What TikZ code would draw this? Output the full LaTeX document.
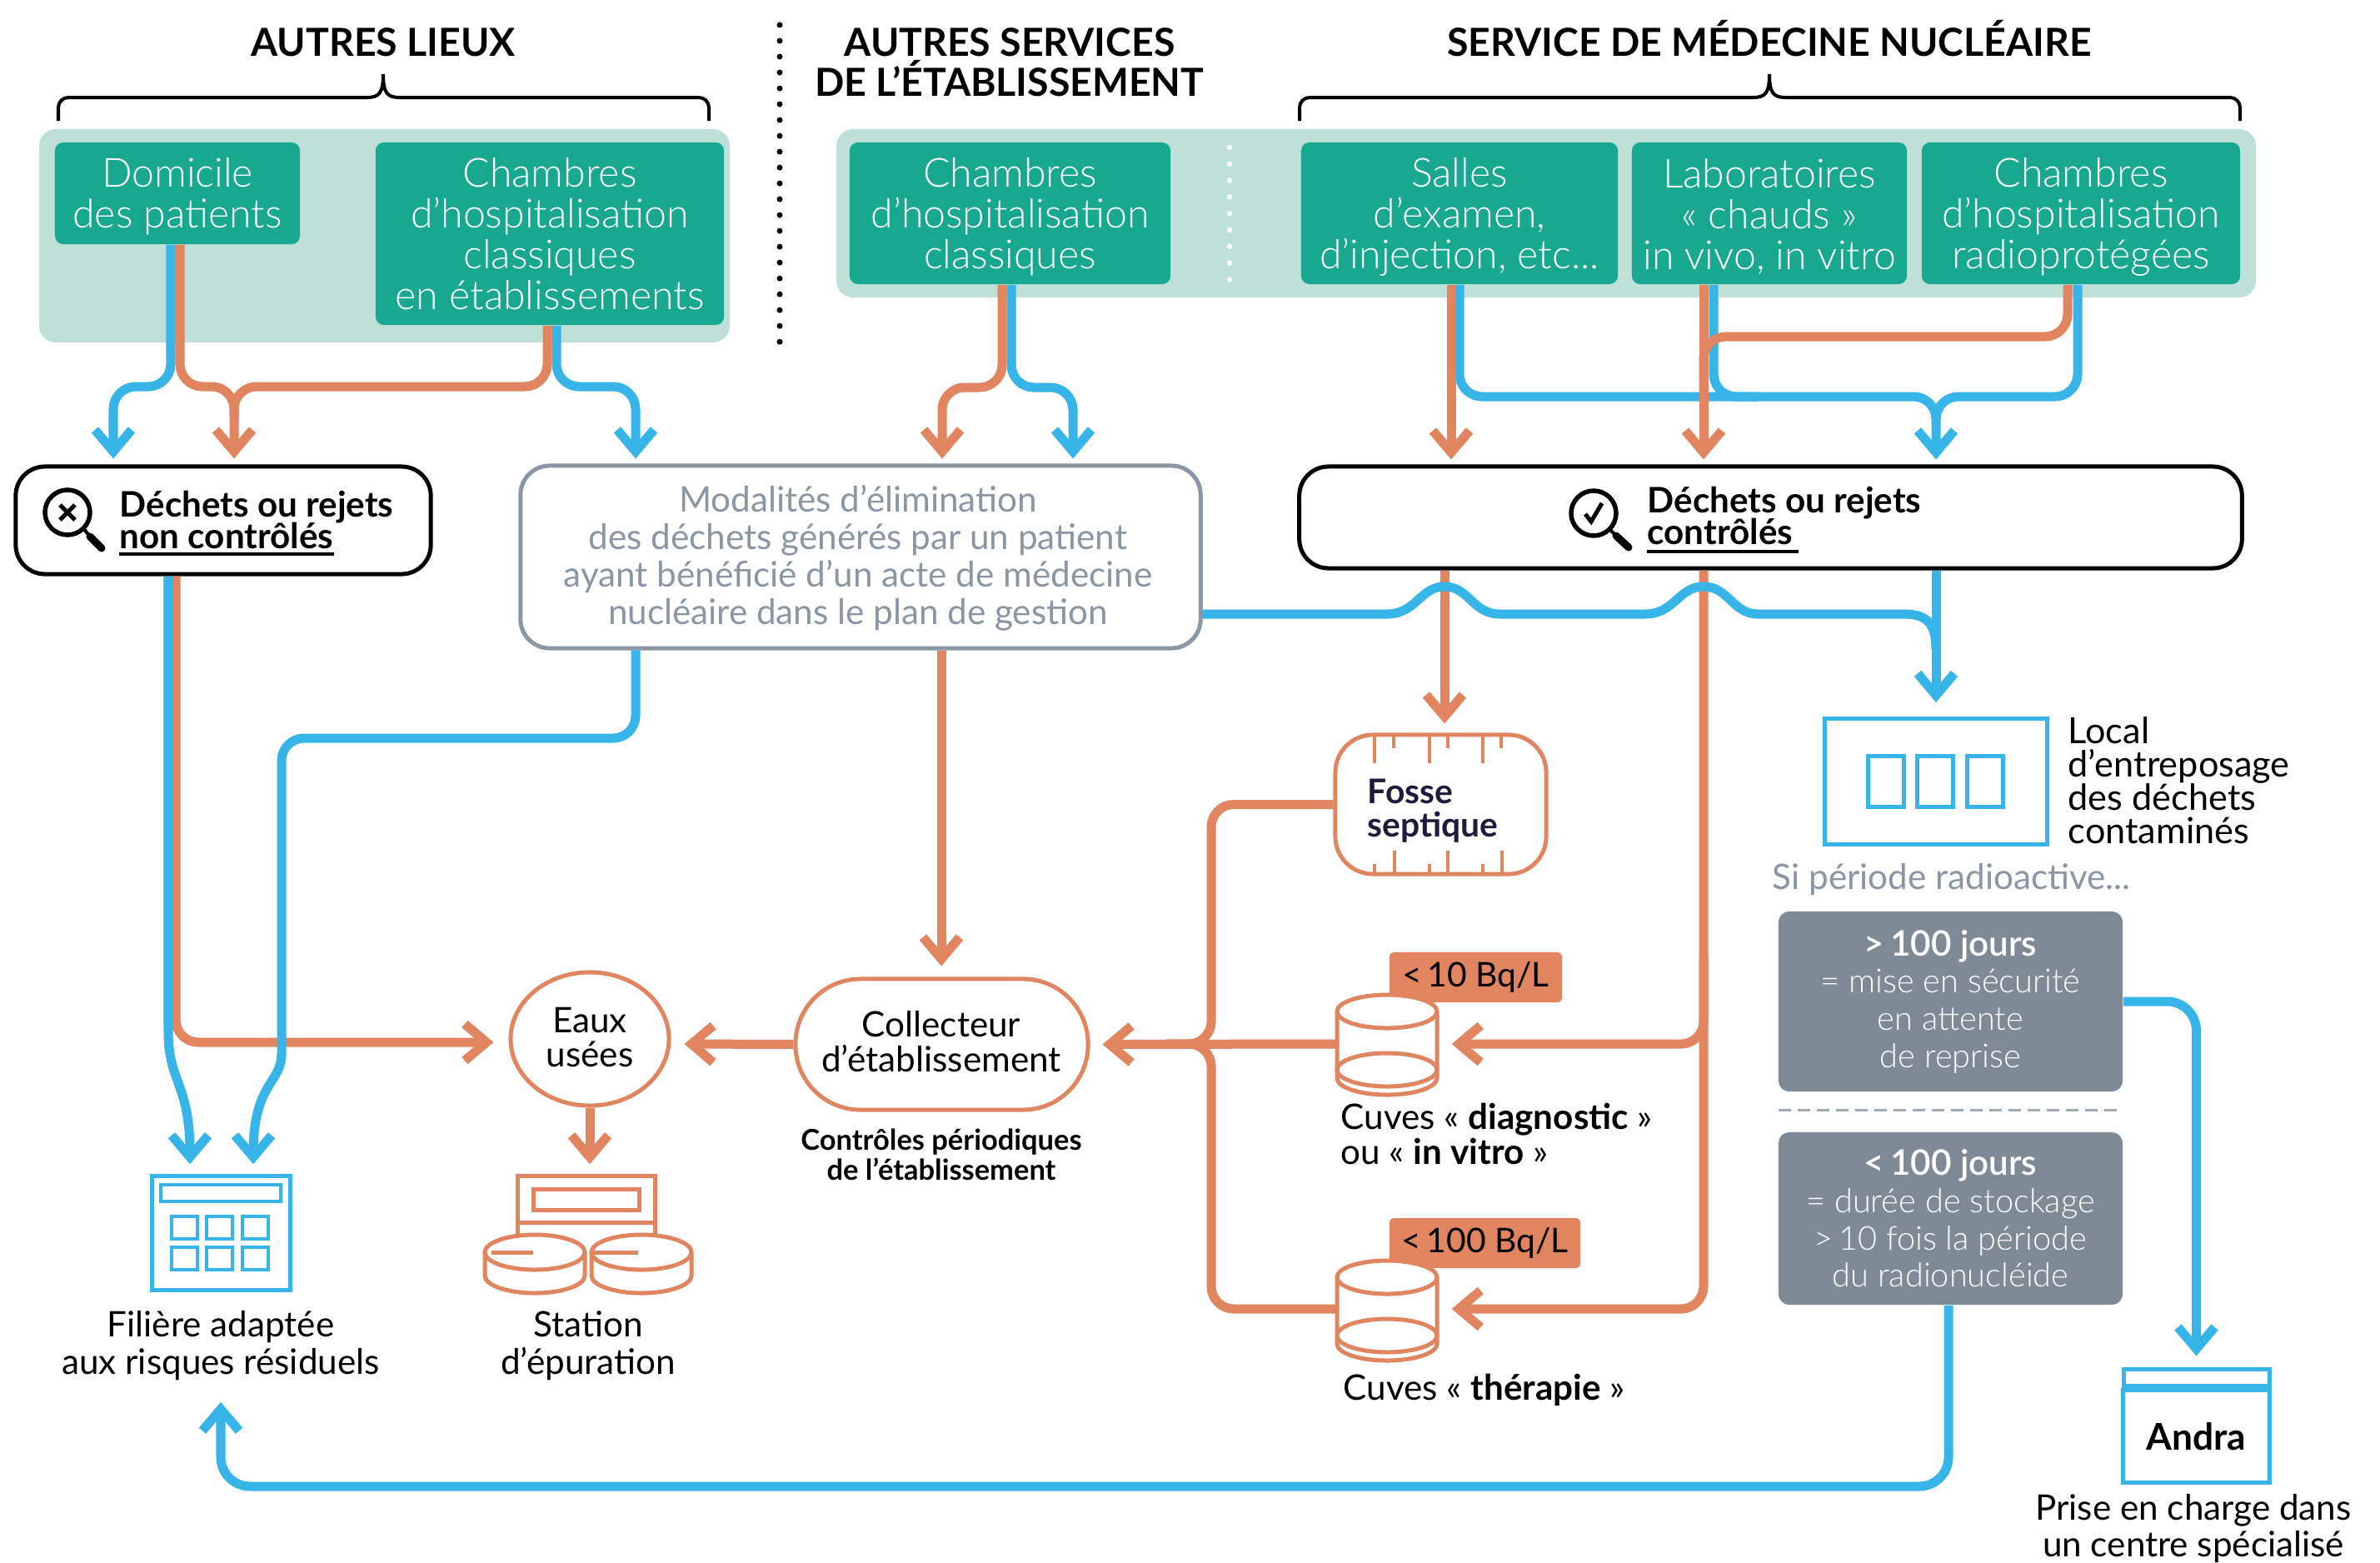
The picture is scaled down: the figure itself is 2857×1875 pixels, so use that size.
\documentclass[tikz,border=0pt]{standalone}
\usepackage{fontspec}
\setmainfont{Lato}
\newfontfamily\lightf{Lato Light}
\usetikzlibrary{arrows.meta,calc,shapes.geometric}
\definecolor{teal1}{HTML}{18A78F}
\definecolor{panelc}{HTML}{BFE0D9}
\definecolor{oran}{HTML}{E0855F}
\definecolor{blu}{HTML}{38B5E8}
\definecolor{grayb}{HTML}{8A96A3}
\definecolor{grayf}{HTML}{7E8B97}
\definecolor{navy}{HTML}{1F1B3D}
\newcommand{\fs}[2]{\fontsize{#1}{#2}\selectfont}
\newcommand{\tl}{\rule{0pt}{12.3pt}}
\AtBeginDocument{\lineskiplimit=-10pt\relax}
\tikzset{
 x=0.01cm,y=-0.01cm,
 panel/.style={fill=panelc,rounded corners=0.2cm},
 tealbox/.style={fill=teal1,rounded corners=0.1cm,inner sep=0,align=center,text=white,font=\lightf\fs{13.7}{13.9}},
 head/.style={font=\bfseries\fs{13.2}{13.6},align=center,inner sep=0},
 brc/.style={draw=black,line width=0.04cm},
 bigbox/.style={draw=black,line width=0.05cm,fill=white,rounded corners=0.35cm,inner sep=0},
 blk/.style={font=\bfseries\fs{12}{10.8},align=left,inner sep=0,anchor=west},
 lbl/.style={font=\fs{12}{12.6},align=center,inner sep=0},
 ln/.style={line width=0.11cm,rounded corners=0.27cm},
 bl/.style={ln,draw=blu},
 or/.style={ln,draw=oran},
 tip/.style={-{Straight Barb[length=0.26cm,width=0.44cm]}},
 ic/.style={line width=0.05cm,draw=oran,fill=white},
 icb/.style={line width=0.05cm,draw=blu},
 graybox/.style={fill=grayf,rounded corners=0.13cm,inner sep=0,text=white,align=center,font=\lightf\fs{11.3}{12.7}},
 tag/.style={fill=oran,rounded corners=0.05cm,inner sep=0,font=\fs{11.6}{12},text=black},
 tube/.pic={
  \draw[ic] (-60,-40) -- (-60,40) arc[start angle=180,end angle=0,x radius=60,y radius=20] -- (60,-40);
  \draw[ic] (0,-40) ellipse[x radius=60,y radius=20];
  \draw[ic] (0,30) ellipse[x radius=60,y radius=20];
 },
 disc/.pic={
  \draw[ic] (-60,0) -- (-60,28) arc[start angle=180,end angle=0,x radius=60,y radius=21] -- (60,0);
  \draw[ic] (0,0) ellipse[x radius=60,y radius=21];
 },
}
\begin{document}
\begin{tikzpicture}
\useasboundingbox (0,0) rectangle (2857,1875);
\fill[white] (0,0) rectangle (2857,1875);
% panels
\fill[panel] (47,155) rectangle (876,411);
\fill[panel] (1004,155) rectangle (2708,357);
% headers
\node[head,anchor=base] (h1) at (460,67) {AUTRES LIEUX};
\node[head] (h2) at (1212,75) {AUTRES SERVICES\\DE L’ÉTABLISSEMENT};
\node[head,anchor=base] (h3) at (2124,67) {SERVICE DE MÉDECINE NUCLÉAIRE};
% braces
\draw[brc,rounded corners=0.12cm] (70,145) -- (70,117) -- (440,117);
\draw[brc] (440,117) .. controls (455,117) and (460,112) .. (460,89);
\draw[brc] (460,89) .. controls (460,112) and (465,117) .. (480,117);
\draw[brc,rounded corners=0.12cm] (480,117) -- (851,117) -- (851,145);
\draw[brc,rounded corners=0.12cm] (1560,145) -- (1560,117) -- (2104,117);
\draw[brc] (2104,117) .. controls (2119,117) and (2124,112) .. (2124,89);
\draw[brc] (2124,89) .. controls (2124,112) and (2129,117) .. (2144,117);
\draw[brc,rounded corners=0.12cm] (2144,117) -- (2689,117) -- (2689,145);
% dotted separators
\draw[line width=0.07cm,line cap=round,dash pattern=on 0pt off 0.19cm,black] (936,30) -- (936,415);
\draw[line width=0.065cm,line cap=round,dash pattern=on 0pt off 0.198cm,white] (1476,177) -- (1476,340);
% teal boxes
\node[tealbox,minimum width=2.94cm,minimum height=1.22cm] (dom) at (213,232) {\tl Domicile\\des patients};
\node[tealbox,minimum width=4.18cm,minimum height=2.19cm] (ch1) at (660,280.5) {Chambres\\d’hospitalisation\\classiques\\en établissements};
\node[tealbox,minimum width=3.85cm,minimum height=1.7cm] (ch2) at (1212.5,256) {\tl Chambres\\d’hospitalisation\\classiques};
\node[tealbox,minimum width=3.8cm,minimum height=1.7cm] (sal) at (1752,256) {\tl Salles\\d’examen,\\d’injection, etc...};
\node[tealbox,minimum width=3.3cm,minimum height=1.7cm] (lab) at (2124,256) {\tl Laboratoires\\« chauds »\\in vivo, in vitro};
\node[tealbox,minimum width=3.82cm,minimum height=1.7cm] (ch3) at (2498,256) {\tl Chambres\\d’hospitalisation\\radioprotégées};
% big boxes
\node[bigbox,minimum width=4.98cm,minimum height=1.29cm] (nc) at (268,624.5) {};
\node[bigbox,draw=grayb,minimum width=8.16cm,minimum height=2.19cm] (mod) at (1033,668.5) {};
\node[text=grayb,align=center,font=\fs{12}{12.8},inner sep=0] (modt) at (1030,670) {Modalités d’élimination\\des déchets générés par un patient\\ayant bénéficié d’un acte de médecine\\nucléaire dans le plan de gestion};
\node[bigbox,minimum width=11.31cm,minimum height=1.22cm] (ct) at (2125.5,621) {};
% other targets
\node[draw=blu,line width=0.05cm,minimum width=2.66cm,minimum height=1.51cm,inner sep=0] (loc) at (2324,938) {};
\node[draw=oran,line width=0.05cm,fill=white,rounded corners=0.45cm,minimum width=2.53cm,minimum height=1.67cm,inner sep=0] (fos) at (1729.5,965.5) {};
\node[ellipse,draw=oran,line width=0.05cm,minimum width=1.9cm,minimum height=1.6cm,inner sep=0] (eau) at (708,1247) {};
\node[align=center,font=\fs{12}{11.6},inner sep=0] (eaut) at (708,1245) {Eaux\\usées};
\node[draw=oran,line width=0.05cm,rounded corners=0.78cm,minimum width=3.51cm,minimum height=1.57cm,inner sep=0] (col) at (1130.5,1253.5) {};
\node[align=center,font=\fs{12}{11.8},inner sep=0] (colt) at (1130,1250) {Collecteur\\d’établissement};
\node[graybox,minimum width=4.13cm,minimum height=2.16cm] (g1) at (2341.5,1202) {\bfseries\fs{12}{12.7}>\,100 jours\\= mise en sécurité\\en attente\\de reprise};
\node[graybox,minimum width=4.13cm,minimum height=2.07cm] (g2) at (2341.5,1462.5) {\bfseries\fs{12}{12.7}<\,100 jours\\= durée de stockage\\>\,10 fois la période\\du radionucléide};
\node[minimum width=1.2cm,minimum height=1.18cm,inner sep=0] (t1) at (1665,1253) {};
\node[minimum width=1.2cm,minimum height=1.18cm,inner sep=0] (t2) at (1665,1571) {};
\node[minimum width=1.66cm,minimum height=1.37cm,inner sep=0] (fil) at (265,1479.5) {};
\node[minimum width=1.65cm,minimum height=1.4cm,inner sep=0] (sta) at (706,1480) {};
\node[draw=blu,line width=0.05cm,minimum width=1.75cm,minimum height=1.1cm,inner sep=0,font=\bfseries\fs{12.6}{13}] (and) at (2636.5,1724) {Andra};
% top connectors blue
\draw[bl,tip] ($(dom.south)+(-8,0)$) -- (205,464) -- (136,464) -- ($(nc.north)+(-132,-7)$);
\draw[bl,tip] ($(ch1.south)+(8,0)$) -- (668,464) -- (763,464) -- ($(mod.north)+(-270,-6)$);
\draw[bl,tip] ($(ch2.south)+(1.5,0)$) -- (1214,465) -- (1288,465) -- ($(mod.north)+(255,-6)$);
\draw[bl] ($(lab.south)+(-67,0)$) -- (2057,476) -- (2110,476);
\draw[bl] (sal.south) -- (1752,476) -- (2324,476) -- (2324,500);
\draw[bl,tip] ($(ch3.south)+(-4,0)$) -- (2494,476) -- (2324,476) -- ($(ct.north)+(198.5,-6)$);
% top connectors orange
\draw[or,tip] ($(dom.south)+(3,0)$) -- (216,464) -- (281,464) -- ($(nc.north)+(13,-7)$);
\draw[or] ($(ch1.south)+(-3,0)$) -- (657,464) -- (281,464) -- (281,500);
\draw[or,tip] ($(ch2.south)+(-9.5,0)$) -- (1203,465) -- (1131,465) -- ($(mod.north)+(98,-6)$);
\draw[or,tip] ($(sal.south)+(-10,0)$) -- ($(ct.north)+(-383.5,-6)$);
\draw[or,tip] ($(lab.south)+(-79,0)$) -- ($(ct.north)+(-80.5,-6)$);
\draw[or] ($(ch3.south)+(-16,0)$) -- (2482,404) -- (2045,404) -- (2045,470);
% lower orange
\draw[or,tip] ($(ct.south)+(-391.5,0)$) -- ($(fos.north)+(4.5,-11)$);
\draw[or,tip] ($(ct.south)+(-80.5,0)$) -- (2045,1571) -- ($(t2.east)+(17,0)$);
\draw[or,tip] (2045,1150) -- (2045,1253) -- ($(t1.east)+(17,0)$);
\draw[or,tip] ($(mod.south)+(97,0)$) -- ($(col.north)+(-0.5,-13)$);
\draw[or] (fos.west) -- (1454,965.5) -- (1454,1253) -- (1400,1253);
\draw[or] (t2.west) -- (1454,1571) -- (1454,1253) -- (1400,1253);
\draw[or,tip] (t1.west) -- ($(col.east)+(15,0)$);
\draw[or,tip] (col.west) -- ($(eau.east)+(16,6)$);
\draw[or,tip] ($(nc.south)+(-57,0)$) -- (211,1251) -- ($(eau.west)+(-18,4)$);
\draw[or,tip] (eau.south) -- ($(sta.north)+(2,-12)$);
% lower blue
\draw[bl,tip,rounded corners=0pt] ($(nc.south)+(-66,0)$) -- (202,1238) .. controls (202,1300) and (228,1300) .. ($(fil.north)+(-37,-13)$);
\draw[bl,tip] ($(mod.south)+(-270,0)$) -- (763,886) -- (338,886) -- (338,1238) .. controls (338,1300) and (304,1300) .. ($(fil.north)+(39,-13)$);
\draw[bl,rounded corners=0pt] ($(mod.east)+(0,68.5)$) -- (1665,737) .. controls (1700,737) and (1705,704) .. (1734,704) .. controls (1763,704) and (1768,737) .. (1800,737) -- (1975,737) .. controls (2010,737) and (2015,704) .. (2045,704) .. controls (2075,704) and (2080,737) .. (2110,737) -- (2285,737) .. controls (2315,737) and (2324,750) .. (2324,780);
\draw[bl,tip] ($(ct.south)+(198.5,0)$) -- ($(loc.north)+(0,-17)$);
\draw[bl,tip,rounded corners=0.35cm] (g1.east) -- (2636.5,1202) -- ($(and.north)+(0,-39)$);
\draw[bl,tip,rounded corners=0.35cm] ($(g2.south)+(-2.5,0)$) -- (2339,1784) -- (265,1784) -- ($(fil.south)+(0,134)$);
% tags and tubes
\node[tag,minimum width=2.07cm,minimum height=0.6cm] (tg1) at (1771.5,1173) {\raisebox{-1pt}{<\,10 Bq/L}};
\node[tag,minimum width=2.29cm,minimum height=0.6cm] (tg2) at (1782.5,1492) {\raisebox{-1pt}{<\,100 Bq/L}};
\pic at (1665,1254) {tube};
\pic at (1665,1573) {tube};
% fosse details
\foreach \x in {1650,1716,1780}{\draw[oran,line width=0.04cm] (\x,882) -- (\x,916);}
\foreach \x in {1673,1738,1802}{\draw[oran,line width=0.04cm] (\x,882) -- (\x,898);}
\foreach \x in {1674,1738,1803}{\draw[oran,line width=0.04cm] (\x,1049) -- (\x,1021);}
\foreach \x in {1650,1716,1780}{\draw[oran,line width=0.04cm] (\x,1049) -- (\x,1037);}
\node[blk,text=navy,font=\bfseries\fs{11.6}{11.4}] (fost) at (1641,973) {Fosse\\septique};
% local icon
\foreach \x in {2242,2301,2361}{\draw[icb] (\x,907) rectangle (\x+43,968);}
% filiere icon
\draw[icb] (182,1411) rectangle (348,1548);
\draw[icb,line width=0.04cm] (193,1422) rectangle (337,1442);
\foreach \x in {206,248,291}{\foreach \y in {1460,1497}{\draw[icb,line width=0.04cm] (\x,\y) rectangle (\x+31,\y+27);}}
% station icon
\draw[oran,line width=0.05cm] (621,1482) -- (621,1411) -- (786,1411) -- (786,1482);
\draw[oran,line width=0.05cm] (621,1467) -- (786,1467);
\draw[oran,line width=0.05cm] (640,1427) rectangle (767,1452);
\pic at (642,1503) {disc};
\pic at (770,1503) {disc};
\draw[oran,line width=0.05cm] (590,1503) -- (640,1503);
\draw[oran,line width=0.05cm] (712,1503) -- (766,1503);
% andra lid
\draw[blu,line width=0.05cm] (2549,1643) rectangle (2724,1663);
% magnifiers
\draw[black,line width=0.055cm] (81,615) circle[radius=27];
\draw[black,line width=0.05cm] (72,606) -- (90,624) (90,606) -- (72,624);
\draw[black,line width=0.04cm] (100,634) -- (108,644);
\draw[black,line width=0.09cm,line cap=round] (108,644) -- (122,658);
\draw[black,line width=0.055cm] (1913,616) circle[radius=27];
\draw[black,line width=0.05cm] (1903,617) -- (1910,626) -- (1923,604);
\draw[black,line width=0.04cm] (1932,635) -- (1940,643);
\draw[black,line width=0.09cm,line cap=round] (1940,643) -- (1955,657);
% box texts
\node[blk] (nct) at (143,624) {Déchets ou rejets\\non contrôlés};
\draw[black,line width=0.045cm] (143,665) -- (401,665);
\node[blk] (ctt) at (1977,619) {Déchets ou rejets\\contrôlés};
\draw[black,line width=0.045cm] (1977,662) -- (2159,662);
% labels
\node[lbl,align=left,font=\fs{12.3}{11.4},anchor=west] (loct) at (2482,937) {Local\\d’entreposage\\des déchets\\contaminés};
\node[lbl,anchor=west,text=grayb] (si) at (2127,1056) {Si période radioactive...};
\draw[grayb!80,line width=0.03cm,dash pattern=on 0.15cm off 0.08cm] (2135,1332) -- (2548,1332);
\node[lbl] (fit) at (265,1615) {Filière adaptée\\aux risques résiduels};
\node[lbl] (stt) at (706,1615) {Station\\d’épuration};
\node[lbl,font=\bfseries\fs{9.8}{10.4}] (cpt) at (1130,1386) {Contrôles périodiques\\de l’établissement};
\node[lbl,anchor=west,align=left,font=\fs{12}{11.9}] (cd) at (1609,1361) {Cuves « \textbf{diagnostic} »\\ou « \textbf{in vitro} »};
\node[lbl,anchor=west] (ct2) at (1612,1668) {Cuves « \textbf{thérapie} »};
\node[lbl,font=\fs{12}{12.5}] (pr) at (2633,1835) {Prise en charge dans\\un centre spécialisé};
\end{tikzpicture}
\end{document}
